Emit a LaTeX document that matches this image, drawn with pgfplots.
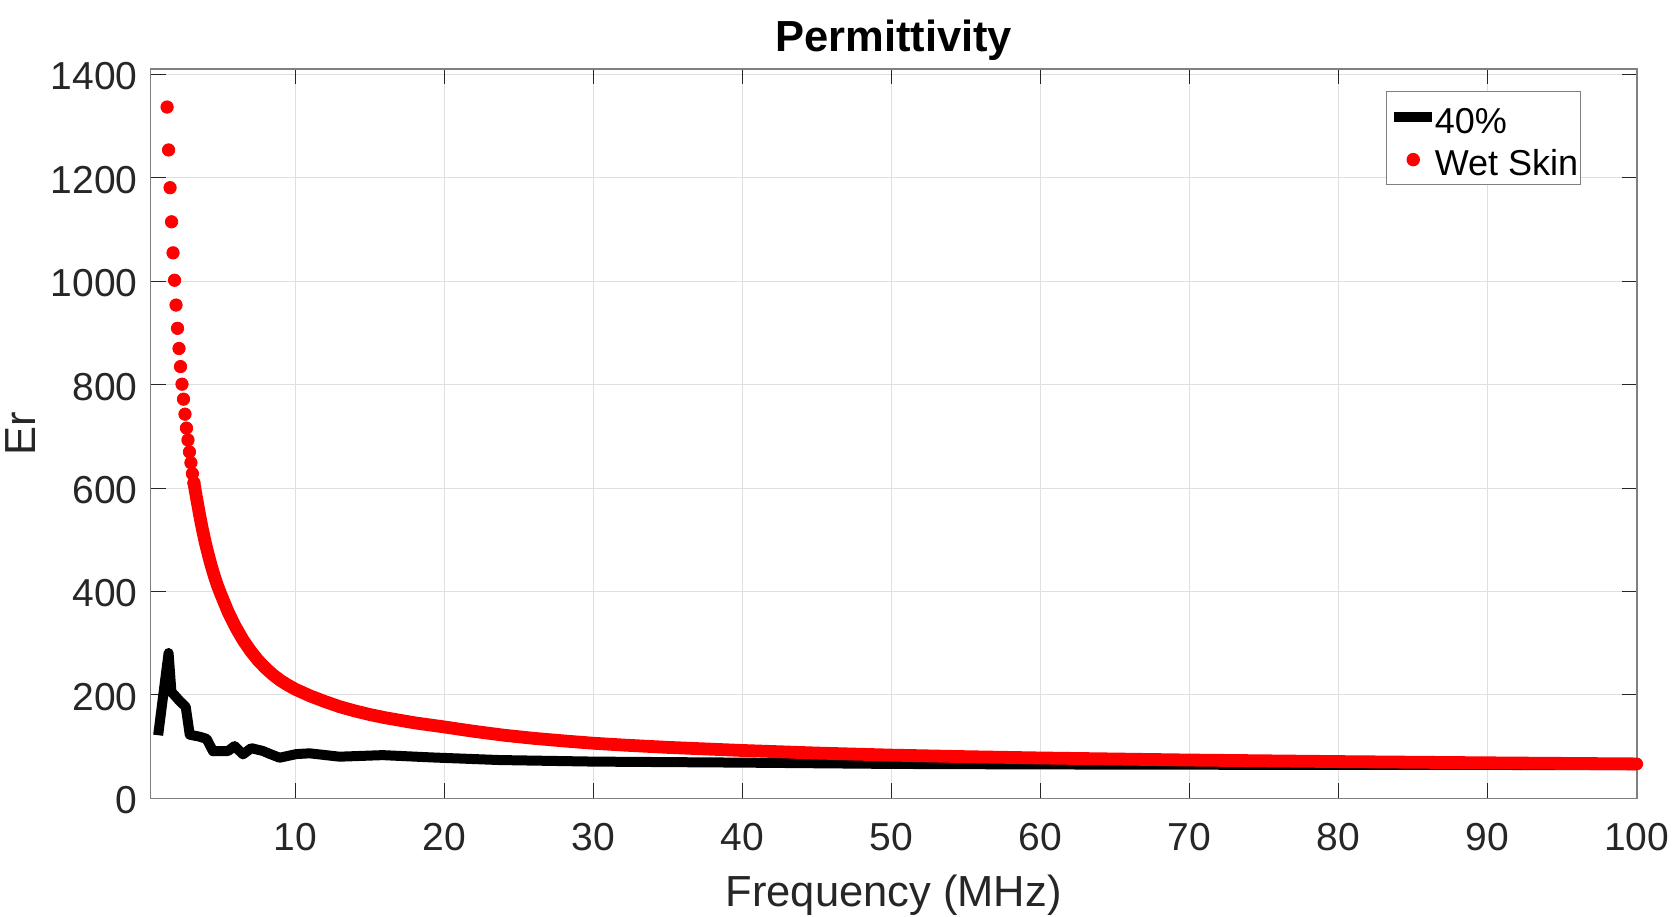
\documentclass[border=0pt]{standalone}
\usepackage{fontspec}
\setmainfont{Liberation Sans}
\usepackage{pgfplots}
\pgfplotsset{compat=1.18}
\definecolor{txt}{RGB}{38,38,38}
\definecolor{axgray}{RGB}{128,128,128}
\definecolor{gridc}{RGB}{223,223,223}
\definecolor{mred}{RGB}{255,0,0}

\pgfplotsset{
  linelegend/.style={legend image code/.code={\draw[##1] (0pt,0pt) -- (19.3pt,0pt);}},
  dotlegend/.style={legend image code/.code={\draw[##1] plot coordinates {(9.8pt,0pt)};}},
}

\pgfplotstableread{
x y
0.8 122
1.5 281
1.69 206
2.25 188
2.65 177
2.92 123
3.6 119
4.05 115
4.48 91
5.49 91.5
5.93 101
6.49 85
7.05 97
7.83 91.5
8.28 86
8.95 78.5
10.07 85.5
10.96 87
12.97 80.5
15.87 83.5
19.2 79
23.7 74
30 71
40 69
50 66.5
60 65.5
70 65
80 64.5
90 64.5
100 64
}\blackdata

\pgfplotstableread{
x y
1.4 1337
1.5 1254
1.6 1181
1.7 1115
1.8 1055
1.9 1002
2.0 954
2.1 909
2.2 870
2.3 835
2.4 801
2.5 772
2.6 743
2.7 716
2.8 693
2.9 670
3.0 649
3.1 628
3.2 610
}\reddots

\pgfplotstableread{
x y
3.2 610
3.4 577
3.6 545
3.8 516
4.0 490
4.2 467
4.4 446
4.6 427
4.8 410
5.0 395
5.5 360
6.0 331
6.5 306
7.0 285
7.5 267
8.0 252
8.5 239
9.0 228
9.5 219
10 211
11 198
12 187
13 177
14 169
15 162
16 156
17 151
18 146
19 142
20 138
22 129.5
24 122
26 116
28 111
30 106.5
32 103
35 98.5
40 92.5
45 87.5
50 83.5
55 80.5
60 78
65 76
70 74
75 72.5
80 71
85 69.8
90 68.6
95 67.5
100 66.5
}\redband

\begin{document}
\begin{tikzpicture}
\path[use as bounding box] (-75.35pt,-58.85pt) rectangle (764.65pt,399.15pt);
\begin{axis}[
  at={(0pt,0pt)}, anchor=south west,
  scale only axis, width=743pt, height=364.5pt,
  xmin=0.3, xmax=100, ymin=0, ymax=1410,
  xtick={10,20,...,100}, ytick={0,200,...,1400},
  scaled ticks=false,
  /pgf/number format/assume math mode=true,
  /pgf/number format/1000 sep={},
  tick align=inside, major tick length=7.5pt,
  xtick pos=both, ytick pos=both,
  xticklabel pos=left, yticklabel pos=left,
  tick style={color=txt, line width=0.5pt},
  axis line style={color=axgray, line width=0.8pt},
  grid=major, major grid style={color=gridc, line width=0.5pt},
  ticklabel style={font=\fontsize{19.5}{23}\selectfont, color=txt, inner sep=0pt},
  xticklabel style={anchor=base, yshift=-26.2pt},
  yticklabel style={anchor=east, xshift=-6.35pt, yshift=-1pt},
  xlabel={Frequency (MHz)}, ylabel={Er},
  label style={font=\fontsize{21.75}{26}\selectfont, color=txt, inner sep=0pt},
  xlabel style={at={([yshift=-54.2pt]axis description cs:0.5,0)}, anchor=base},
  ylabel style={at={([xshift=-64.9pt]axis description cs:0,0.5)}, anchor=center},
  title={Permittivity},
  title style={at={([yshift=2.9pt]axis description cs:0.5,1)}, anchor=base,
    font=\bfseries\fontsize{21.75}{26}\selectfont, inner sep=0pt, color=black},
  clip=false,
  legend cell align=left,
  legend style={
    at={([xshift=-28pt,yshift=-11pt]axis description cs:1,1)}, anchor=north east,
    draw=axgray, line width=0.5pt, fill=white,
    inner xsep=1pt, inner ysep=3pt,
    font=\fontsize{18}{21}\selectfont,
    row sep=2.05pt,
    /tikz/column sep=-1.2pt,
    nodes={inner sep=0pt, text height=17.75pt, text depth=1.5pt},
  },
]
\addplot[black, line width=5pt, line join=round, line cap=butt, linelegend]
  table[x=x,y=y] {\blackdata};
\addlegendentry{40\%}
\addplot[only marks, mark=*, mark size=3.1pt, color=mred, mark options={draw=mred, fill=mred}, dotlegend]
  table[x=x,y=y] {\reddots};
\addlegendentry{Wet Skin}
\addplot[mred, line width=6.4pt, line join=round, line cap=round, forget plot]
  table[x=x,y=y] {\redband};
\end{axis}
\end{tikzpicture}
\end{document}
